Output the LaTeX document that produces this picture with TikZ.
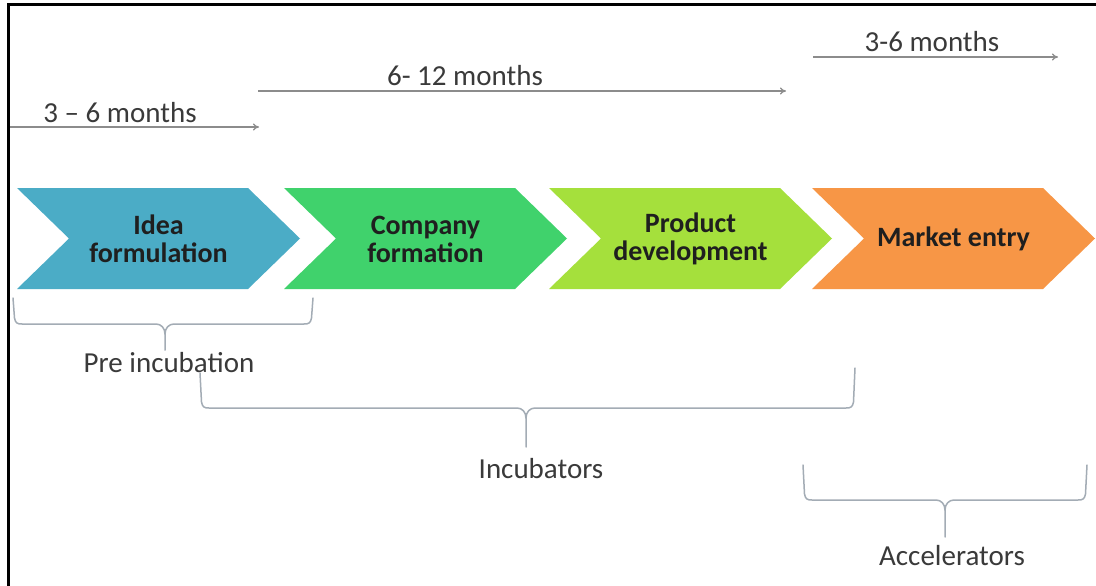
\documentclass[tikz,border=0pt]{standalone}
\usepackage{fontspec}
\setmainfont{Carlito}
\usetikzlibrary{arrows.meta}
\definecolor{cblue}{HTML}{4BACC6}
\definecolor{cgreen}{HTML}{40D26C}
\definecolor{clime}{HTML}{A5E03C}
\definecolor{corange}{HTML}{F79646}
\definecolor{arrowgray}{HTML}{8C8C8C}
\definecolor{bracegray}{HTML}{A3ACB5}
\definecolor{txtgray}{HTML}{3A3A3A}
\newcommand{\mychevron}[4]{%
  \fill[#3] (#2,188) -- ({#2+231},188) -- ({#2+283},238.5) -- ({#2+231},289) -- (#2,289) -- ({#2+52},238.5) -- cycle;
  \node[chevtext] (#1) at ({#2+141.5},239) {#4};}
\newcommand{\mybrace}[7]{% x1 x2 xc ytopL ytopR yh ytail
  \draw[bracestyle] (#1,#4) -- ({#1+1.5},{#6-6}) .. controls ({#1+2.5},{#6-1}) and ({#1+4},#6) .. ({#1+9},#6)
    -- ({#3-9},#6) .. controls ({#3-4},#6) and (#3,{#6+4}) .. (#3,{#6+10}) -- (#3,#7);
  \draw[bracestyle] (#3,{#6+10}) .. controls (#3,{#6+4}) and ({#3+4},#6) .. ({#3+9},#6)
    -- ({#2-9},#6) .. controls ({#2-4},#6) and ({#2-2.5},{#6-1}) .. ({#2-1.5},{#6-6}) -- (#2,#5);}
\begin{document}
\begin{tikzpicture}[x=1pt,y=-1pt,
  chevtext/.style={font=\fontsize{28}{28}\selectfont\bfseries, text=black!88, align=center, inner sep=0pt},
  lbl/.style={font=\fontsize{29}{30}\selectfont, text=txtgray, inner sep=0pt, anchor=base},
  timeline/.style={draw=arrowgray, line width=1.3pt, -{To[length=6pt,width=7pt]}},
  bracestyle/.style={draw=bracegray, line width=1.5pt, line cap=round, line join=round}]
\useasboundingbox (0,0) rectangle (1096,586);
\fill[white] (0,0) rectangle (1096,586);
\draw[line width=3pt] (8,600) -- (8,5) -- (1110,5);
% chevrons
\mychevron{idea}{17}{cblue}{Idea\\formulation}
\mychevron{company}{284}{cgreen}{Company\\formation}
\mychevron{product}{549}{clime}{Product\\development}
\mychevron{market}{812}{corange}{Market entry}
% time arrows
\coordinate (a1s) at (10,127); \coordinate (a1e) at (259,127);
\coordinate (a2s) at (258,91);  \coordinate (a2e) at (786,91);
\coordinate (a3s) at (813,57);  \coordinate (a3e) at (1058,57);
\draw[timeline] (a1s) -- (a1e);
\draw[timeline] (a2s) -- (a2e);
\draw[timeline] (a3s) -- (a3e);
\node[lbl] (t1) at (120,122) {3 – 6 months};
\node[lbl] (t2) at (465,86) {6- 12 months};
\node[lbl] (t3) at (932,52) {3-6 months};
% braces
\mybrace{13}{313}{165}{298}{298}{324}{350}
\mybrace{200}{855}{526}{373}{368}{408}{447}
\mybrace{803}{1087}{945}{465}{465}{500}{537}
\node[lbl] (pre) at (169,372) {Pre incubation};
\node[lbl] (inc) at (541,478) {Incubators};
\node[lbl] (acc) at (952,565) {Accelerators};
\end{tikzpicture}
\end{document}
